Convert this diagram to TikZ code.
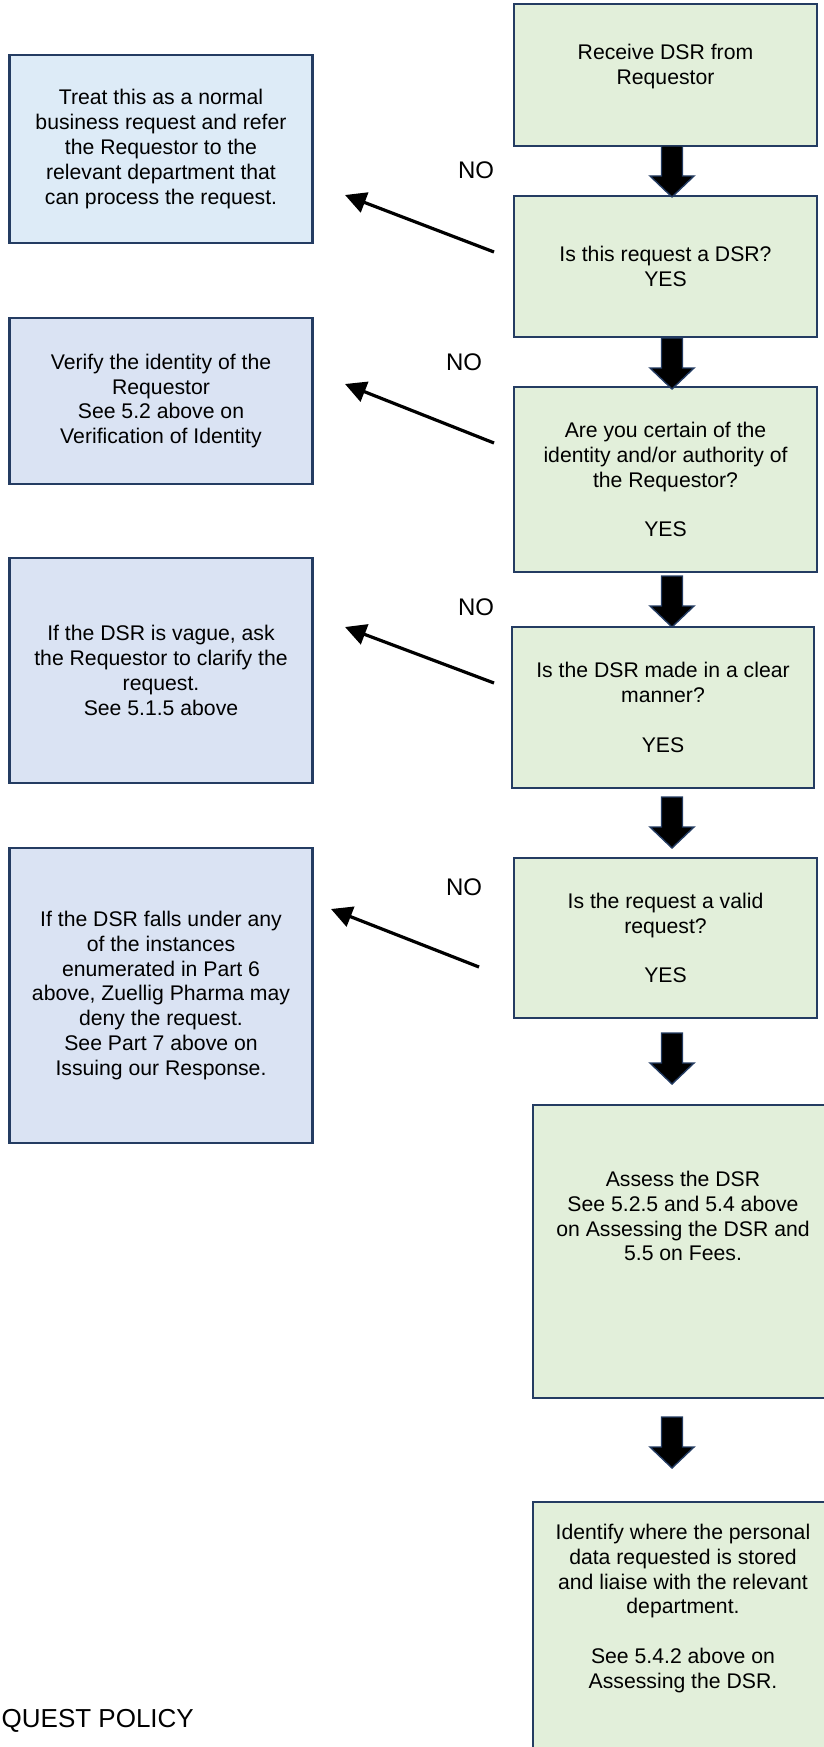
\documentclass[tikz,border=0pt]{standalone}
\usepackage{fontspec}
\setmainfont{Liberation Sans}
\usetikzlibrary{arrows.meta}
\definecolor{navy}{RGB}{36,60,98}
\definecolor{gfill}{RGB}{226,239,218}
\definecolor{bfill}{RGB}{218,227,243}
\definecolor{lbfill}{RGB}{221,235,247}
\begin{document}
\begin{tikzpicture}[x=1pt,y=-1pt,
  box/.style={draw=navy, line width=2.7pt, rectangle, inner sep=0pt, align=center,
    font=\fontsize{21.2}{24.8}\selectfont, text=black},
  gbox/.style={box, fill=gfill},
  bbox/.style={box, fill=bfill},
  txt/.style={inner sep=0pt, align=center, font=\fontsize{21.2}{24.8}\selectfont},
  nolab/.style={inner sep=0pt, font=\fontsize{24}{28}\selectfont},
  noarrow/.style={line width=3.2pt, -{Triangle[length=21pt,width=21pt]}},
  downarr/.pic={\draw[fill=black, draw=navy, line width=1.4pt, line join=miter]
    (-10.5,0) -- (10.5,0) -- (10.5,30) -- (22,30) -- (0,51) -- (-22,30) -- (-10.5,30) -- cycle;}
]
\useasboundingbox (0,0) rectangle (824,1747);
\clip (0,0) rectangle (824,1747);

% right column
\node[gbox, minimum width=303pt, minimum height=142pt] (r) at (665.5,75) {};
\node[txt, anchor=north] (rt) at (665.5,44) {Receive DSR from\\Requestor};
\node[gbox, minimum width=303pt, minimum height=141pt] (i) at (665.5,266.5)
  {Is this request a DSR?\\YES};
\node[gbox, minimum width=303pt, minimum height=185pt] (c) at (665.5,479.5)
  {Are you certain of the\\identity and/or authority of\\the Requestor?\\[24.8pt]YES};
\node[gbox, minimum width=302pt, minimum height=161pt] (cl) at (663,707.5)
  {Is the DSR made in a clear\\manner?\\[24.8pt]YES};
\node[gbox, minimum width=303pt, minimum height=160pt] (va) at (665.5,938)
  {Is the request a valid\\request?\\[24.8pt]YES};
\node[gbox, minimum width=300pt, minimum height=293pt] (a) at (683,1251.5) {};
\node[txt, anchor=north] (at) at (683,1171) {Assess the DSR\\See 5.2.5 and 5.4 above\\on Assessing the DSR and\\5.5 on Fees.};
\node[gbox, minimum width=300pt, minimum height=280pt] (id) at (683,1642) {};
\node[txt, anchor=north] (idt) at (683,1524) {Identify where the personal\\data requested is stored\\and liaise with the relevant\\department.\\[24.8pt]See 5.4.2 above on\\Assessing the DSR.};

% left column
\node[bbox, fill=lbfill, minimum width=303.5pt, minimum height=188pt] (t) at (161,149)
  {Treat this as a normal\\business request and refer\\the Requestor to the\\relevant department that\\can process the request.};
\node[bbox, minimum width=303.5pt, minimum height=166pt] (v) at (161,401)
  {Verify the identity of the\\Requestor\\See 5.2 above on\\Verification of Identity};
\node[bbox, minimum width=303.5pt, minimum height=225pt] (vg) at (161,670.5)
  {If the DSR is vague, ask\\the Requestor to clarify the\\request.\\See 5.1.5 above};
\node[bbox, minimum width=303.5pt, minimum height=295pt] (in) at (161,995.5)
  {If the DSR falls under any\\of the instances\\enumerated in Part 6\\above, Zuellig Pharma may\\deny the request.\\See Part 7 above on\\Issuing our Response.};

% down block arrows
\pic at (672,146) {downarr};
\pic at (672,338) {downarr};
\pic at (672,576) {downarr};
\pic at (672,797) {downarr};
\pic at (672,1033) {downarr};
\pic at (672,1417) {downarr};

% NO labels
\node[nolab] (no1) at (476,170) {NO};
\node[nolab] (no2) at (464,362) {NO};
\node[nolab] (no3) at (476,607) {NO};
\node[nolab] (no4) at (464,887) {NO};

% NO arrows
\coordinate (d1s) at (494,252); \coordinate (d1e) at (345,195);
\coordinate (d2s) at (494,443); \coordinate (d2e) at (345,384);
\coordinate (d3s) at (494,683); \coordinate (d3e) at (345,627);
\coordinate (d4s) at (479,967); \coordinate (d4e) at (331,909);
\draw[noarrow] (d1s) -- (d1e);
\draw[noarrow] (d2s) -- (d2e);
\draw[noarrow] (d3s) -- (d3e);
\draw[noarrow] (d4s) -- (d4e);

\node[anchor=base west, inner sep=0pt, font=\fontsize{26}{30}\selectfont] (qp) at (1.5,1727) {QUEST POLICY};
\end{tikzpicture}
\end{document}
